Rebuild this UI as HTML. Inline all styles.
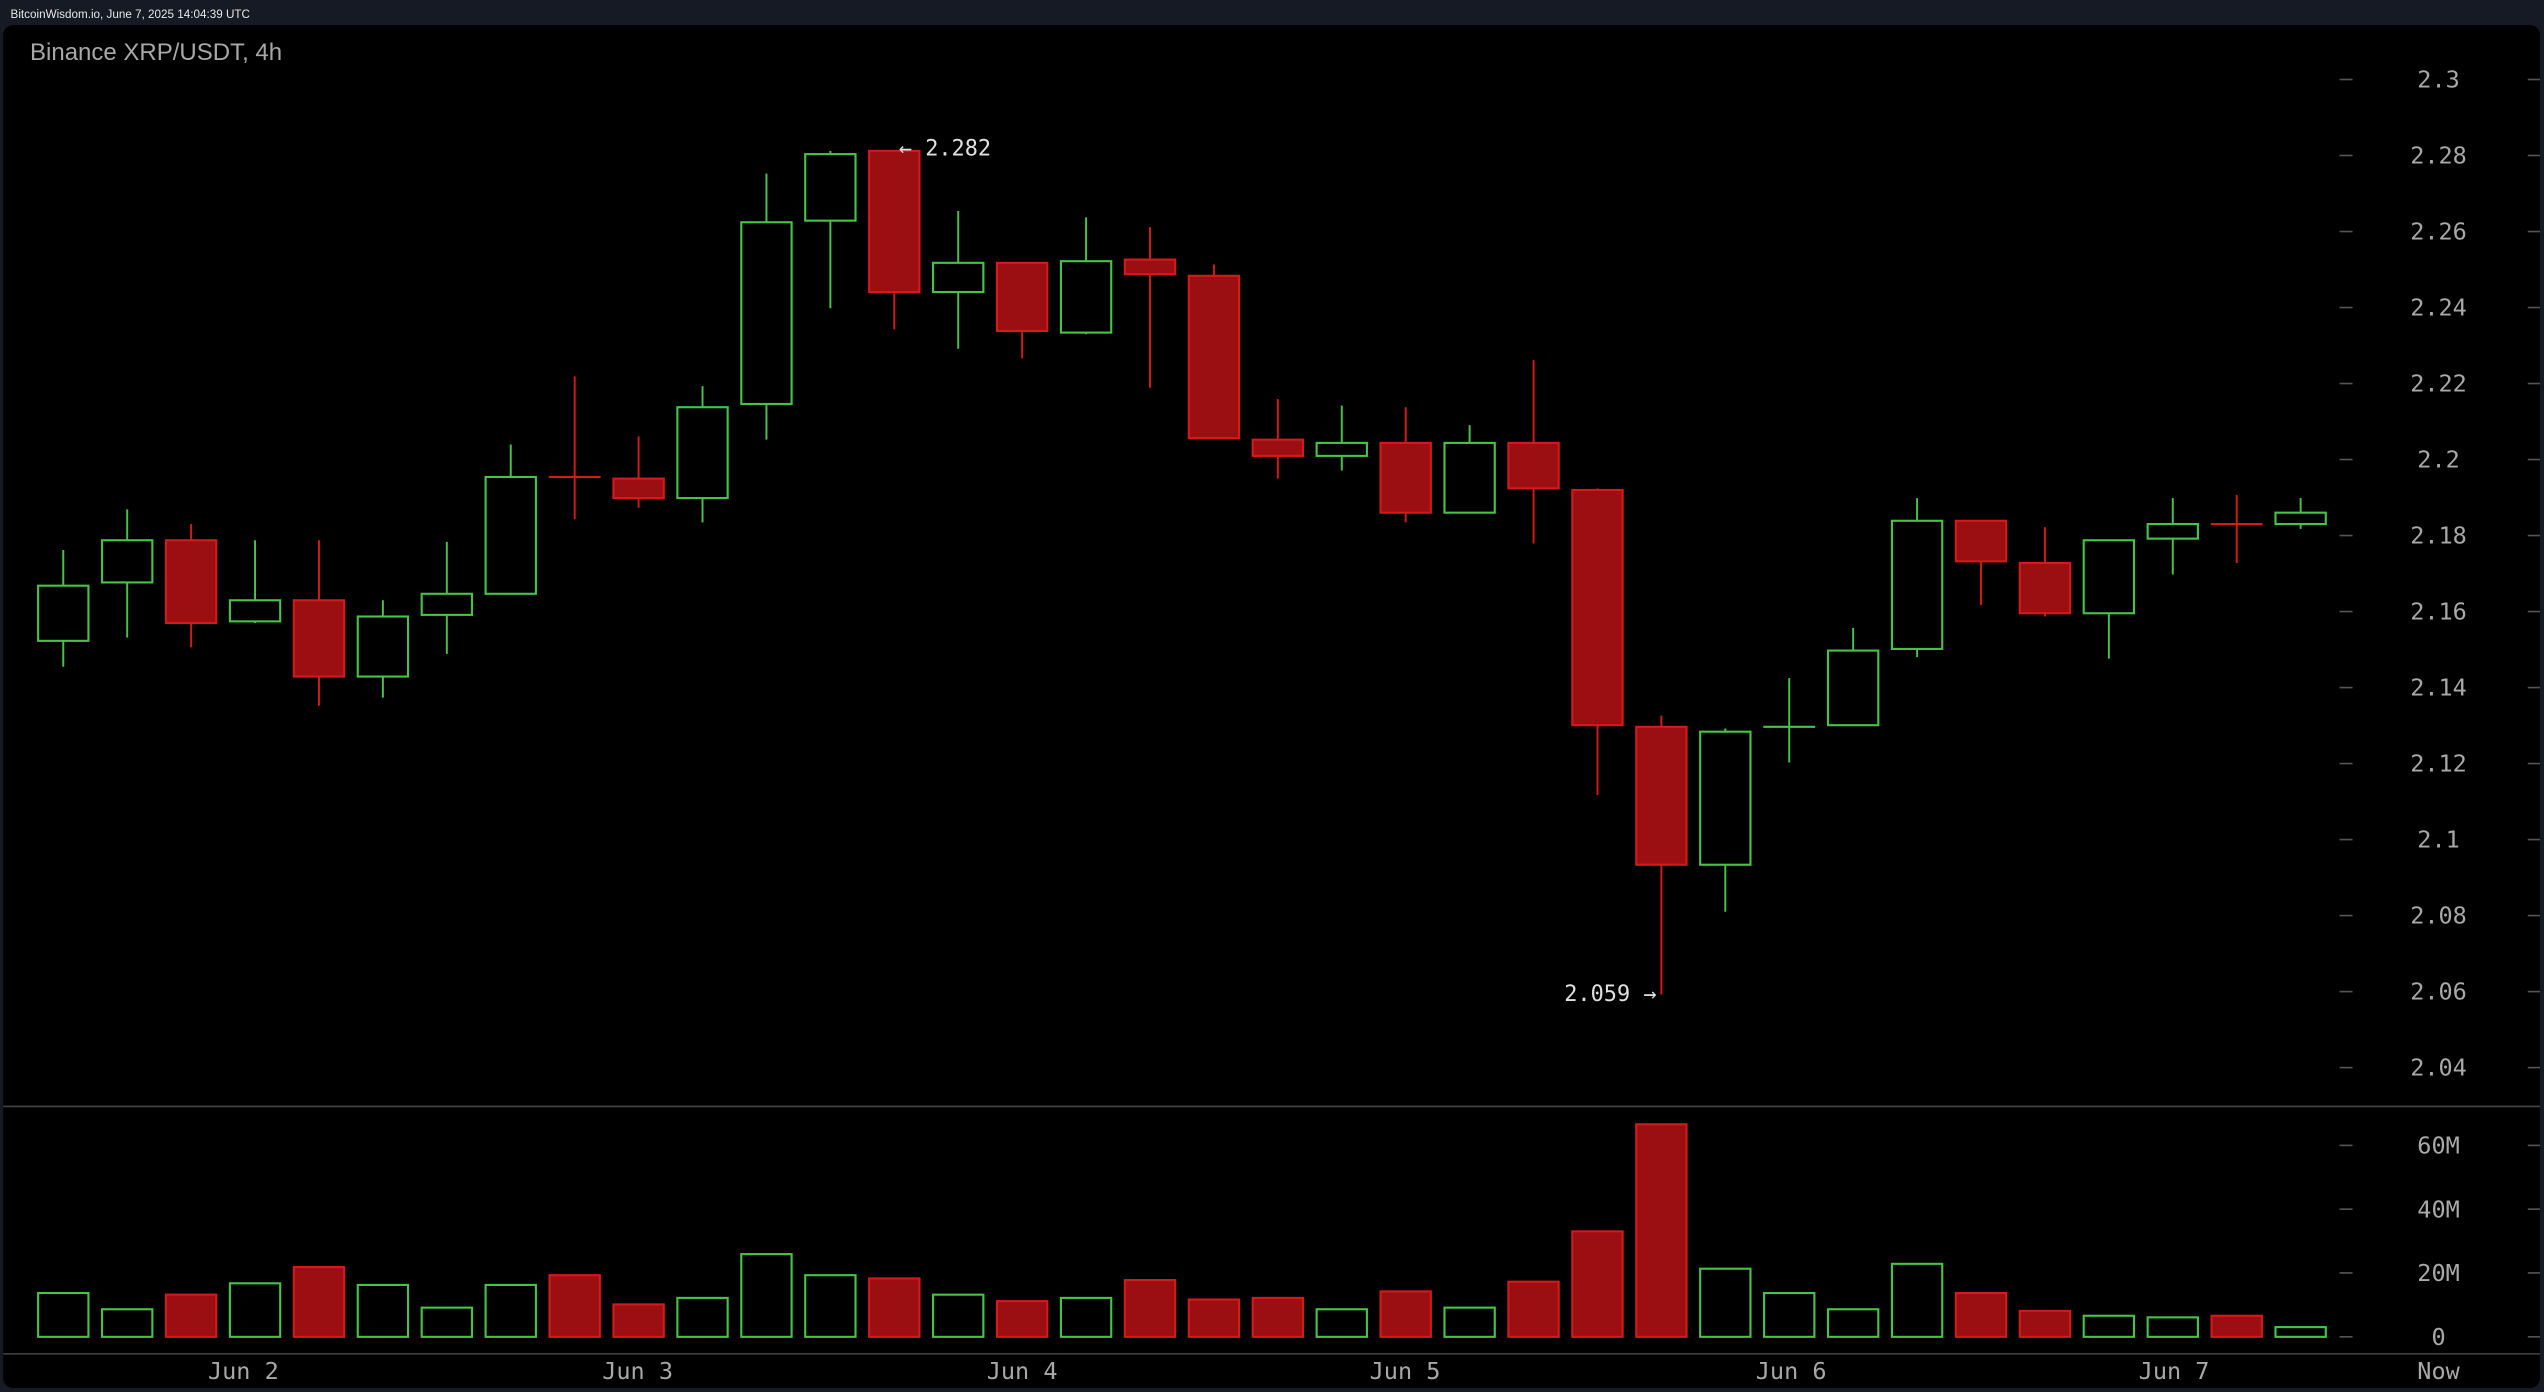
<!DOCTYPE html>
<html><head><meta charset="utf-8"><style>
html,body{margin:0;padding:0;background:#151a24;width:2544px;height:1392px;overflow:hidden}
svg{display:block}
</style></head><body>
<svg id="s" width="2544" height="1392" viewBox="0 0 1568 858" preserveAspectRatio="none" xmlns="http://www.w3.org/2000/svg">
<rect x="0" y="0" width="1568" height="858" fill="#151a24"/>
<text x="6.5" y="11" font-family="Liberation Sans, sans-serif" font-size="7.2" fill="#e6e6e6">BitcoinWisdom.io, June 7, 2025 14:04:39 UTC</text>
<rect x="2" y="15.5" width="1563.5" height="840" rx="6" fill="#000"/>
<text x="18.5" y="37" font-family="Liberation Sans, sans-serif" font-size="14.8" fill="#a8a8a8">Binance XRP/USDT, 4h</text>
<line x1="2" y1="682" x2="1565.5" y2="682" stroke="#444" stroke-width="1"/>
<line x1="2" y1="834.5" x2="1565.5" y2="834.5" stroke="#444" stroke-width="1"/>
<g id="g"></g>
</svg>
<script>
var g=document.getElementById('g');var NS='http://www.w3.org/2000/svg';
function el(t,a,txt){var e=document.createElementNS(NS,t);for(var k in a)e.setAttribute(k,a[k]);if(txt!=null)e.textContent=txt;g.appendChild(e);return e;}
var mono='DejaVu Sans Mono, Liberation Mono, monospace';
var prices=['2.3','2.28','2.26','2.24','2.22','2.2','2.18','2.16','2.14','2.12','2.1','2.08','2.06','2.04'];
for(var i=0;i<prices.length;i++){var y=49+i*46.85;
 el('line',{x1:1442,y1:y,x2:1450,y2:y,stroke:'#555','stroke-width':1});
 el('line',{x1:1558,y1:y,x2:1565.5,y2:y,stroke:'#555','stroke-width':1});
 el('text',{x:1503,y:y+5,'text-anchor':'middle','font-family':mono,'font-size':14.5,fill:'#a8a8a8'},prices[i]);}
var vols=[['60M',706],['40M',745.3],['20M',784.6],['0',824]];
vols.forEach(function(v){el('line',{x1:1442,y1:v[1],x2:1450,y2:v[1],stroke:'#555','stroke-width':1});
 el('line',{x1:1558,y1:v[1],x2:1565.5,y2:v[1],stroke:'#555','stroke-width':1});
 el('text',{x:1503,y:v[1]+5,'text-anchor':'middle','font-family':mono,'font-size':14.5,fill:'#a8a8a8'},v[0]);});
var days=[['Jun 2',150],['Jun 3',393],['Jun 4',630],['Jun 5',866],['Jun 6',1104],['Jun 7',1340],['Now',1503]];
days.forEach(function(d){el('text',{x:d[1],y:850,'text-anchor':'middle','font-family':mono,'font-size':14.5,fill:'#a8a8a8'},d[0]);});
var C=[['g',361,395,339,411,797],['g',333,359,314,393,807],['r',333,384,323,399,798],['g',370,383,333,384,791],
['r',370,417,333,435,781],['g',380,417,370,430,792],['g',366,379,334,403,806],['g',294,366,274,366,792],
['r',294,294,232,320,786],['r',295,307,269,313,804],['g',251,307,238,322,800],['g',137,249,107,271,773],
['g',95,136,93,190,786],['r',93,180,93,203,788],['g',162,180,130,215,798],['r',162,204,162,221,802],
['g',161,205,134,206,800],['r',160,169,140,239,789],['r',170,270,163,270,801],['r',271,281,246,295,800],
['g',273,281,250,290,807],['r',273,316,251,322,796],['g',273,316,262,316,806],['r',273,301,222,335,790],
['r',302,447,301,490,759],['r',448,533,441,613,693],['g',451,533,449,562,782],['g',448,449,418,470,797],
['g',401,447,387,447,807],['g',321,400,307,405,779],['r',321,346,321,373,797],['r',347,378,325,380,808],
['g',333,378,333,406,811],['g',323,332,307,354,812],['r',323,323,305,347,811],['g',316,323,307,326,818]];
for(var i=0;i<C.length;i++){var c=C[i];var x=39+i*39.4;var gr=c[0]=='g';
 var st=gr?'#47c447':'#d41a1a',fl=gr?'#000':'#9b0f12';
 el('line',{x1:x,y1:c[3],x2:x,y2:c[4],stroke:st,'stroke-width':1.2});
 if(c[2]-c[1]<1.5){el('line',{x1:x-16,y1:c[1],x2:x+16,y2:c[1],stroke:st,'stroke-width':1.3});}
 else el('rect',{x:x-15.5,y:c[1],width:31,height:c[2]-c[1],fill:fl,stroke:st,'stroke-width':1.3});
 el('rect',{x:x-15.5,y:c[5],width:31,height:824-c[5],fill:fl,stroke:st,'stroke-width':1.3});}
el('text',{x:554,y:96,'font-family':mono,'font-size':13.5,fill:'#e0e0e0'},'\u2190 2.282');
el('text',{x:1021,y:617,'text-anchor':'end','font-family':mono,'font-size':13.5,fill:'#e0e0e0'},'2.059 \u2192');
</script>
</body></html>
